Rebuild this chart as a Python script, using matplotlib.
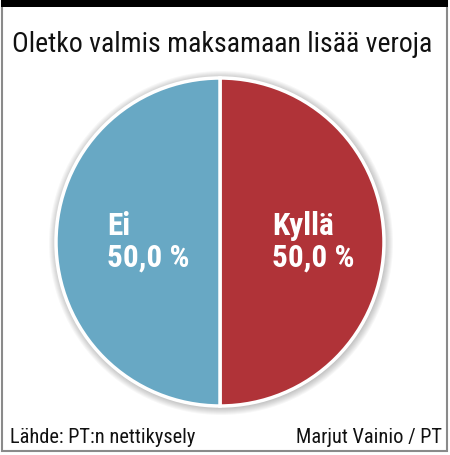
import matplotlib
matplotlib.use("Agg")
import matplotlib.pyplot as plt
from matplotlib.patches import Circle, Rectangle
from matplotlib import font_manager

# ---- data ----
title = "Oletko valmis maksamaan lisää veroja"
categories = ["Kyllä", "Ei"]
values = [50.0, 50.0]
colors = ["#b03338", "#68a8c4"]
source_text = "Lähde: PT:n nettikysely"
author_text = "Marjut Vainio / PT"

avail = {f.name for f in font_manager.fontManager.ttflist}
fam = [f for f in ["Liberation Sans Narrow", "Roboto Condensed", "Roboto", "DejaVu Sans"] if f in avail]

W, H = 450, 456
fig = plt.figure(figsize=(W / 100, H / 100), dpi=100)
ax = fig.add_axes([0, 0, 1, 1])

# frame
ax.add_patch(Rectangle((2, 2), 445, 450, fill=False, edgecolor="#8a8a8a", lw=1.5))
ax.add_patch(Rectangle((1, 0), 447, 8, facecolor="black", edgecolor="none"))

cx, cy, r = 220, 243, 164
# shadow
for i in range(8):
    ax.add_patch(Circle((cx + 1, cy + 1), r + 8 - i, facecolor="#000000",
                        alpha=0.03, edgecolor="none", zorder=1))

wedges, _ = ax.pie(values, colors=colors, startangle=90, counterclock=False,
                   center=(cx, cy), radius=r, frame=True,
                   wedgeprops=dict(edgecolor="white", linewidth=2.5))
for w in wedges:
    w.set_zorder(3)
ax.set_xlim(0, W)
ax.set_ylim(H, 0)
ax.set_aspect("equal")
ax.axis("off")

ax.text(222, 44, title, ha="center", va="center", fontsize=20, family=fam, color="#111111")

for i, (cat, val) in enumerate(zip(categories, values)):
    x = 272 if i == 0 else 107
    ax.text(x, 242, f"{cat}\n{val:.1f} %".replace(".", ","), ha="left", va="center",
            fontsize=22.5, family=fam, fontweight="bold", color="white",
            linespacing=1.05, zorder=5)

ax.text(10, 438, source_text, ha="left", va="center", fontsize=14.7, family=fam, color="#111111")
ax.text(442, 438, author_text, ha="right", va="center", fontsize=14.7, family=fam, color="#111111")

fig.savefig("out.png", dpi=100)
